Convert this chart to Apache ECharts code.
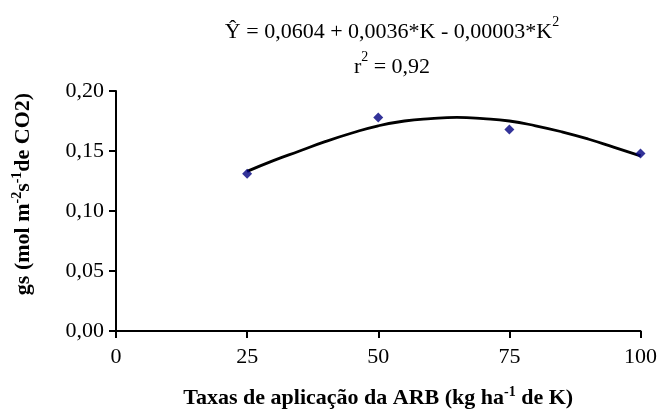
<!DOCTYPE html>
<html>
<head>
<meta charset="utf-8">
<script src="https://cdn.jsdelivr.net/npm/echarts@6/dist/echarts.min.js"></script>
<style>html,body{margin:0;padding:0;background:#fff}#c{width:660px;height:414px}</style>
</head>
<body>
<div id="c"></div>
<script>
// Observed data
const doses = [25, 50, 75, 100];
const gsObserved = [0.131, 0.178, 0.168, 0.148];
// Fitted curve
const curveK = [25, 30, 35, 40, 45, 50, 55, 60, 65, 70, 75, 80, 85, 90, 95, 100];
const curveGs = [0.133, 0.142, 0.150, 0.158, 0.165, 0.171, 0.175, 0.177, 0.178, 0.177, 0.175, 0.171, 0.166, 0.160, 0.153, 0.146];
const xTicks = [0, 25, 50, 75, 100];
const yTicks = [0, 0.05, 0.10, 0.15, 0.20];

const FONT = '"Liberation Serif", "Times New Roman", serif';
const chart = echarts.init(document.getElementById('c'), null, {renderer: 'canvas'});
const fmt = v => v.toFixed(2).replace('.', ',');

chart.setOption({
  animation: false,
  backgroundColor: '#fff',
  textStyle: {fontFamily: FONT, color: '#000'},
  title: [{
    text: '{n|Ŷ = 0,0604 + 0,0036*K - 0,00003*K}{s|2}\n{n|r}{s|2}{n| = 0,92}',
    left: 387, top: 10, textAlign: 'center',
    textStyle: {
      fontFamily: FONT, fontWeight: 'normal', color: '#000',
      rich: {
        n: {fontFamily: FONT, fontSize: 22, color: '#000', lineHeight: 35},
        s: {fontFamily: FONT, fontSize: 14, color: '#000', verticalAlign: 'top', lineHeight: 35, padding: [0, 0, 12, 0]}
      }
    }
  }],
  grid: {left: 116, right: 18, top: 91, bottom: 75},
  xAxis: {
    type: 'value', min: 0, max: 100, interval: 25,
    name: '{b|Taxas de aplicação da ARB (kg ha}{s|-1}{b| de K)}',
    nameLocation: 'middle', nameGap: 54,
    nameTextStyle: {
      rich: {
        b: {fontFamily: FONT, fontSize: 22, fontWeight: 'bold', color: '#000'},
        s: {fontFamily: FONT, fontSize: 14, fontWeight: 'bold', color: '#000', verticalAlign: 'top', padding: [0, 0, 12, 0]}
      }
    },
    axisLine: {show: true, lineStyle: {color: '#000', width: 2}},
    axisTick: {show: true, length: 7, lineStyle: {color: '#000', width: 2}},
    axisLabel: {fontFamily: FONT, fontSize: 22, color: '#000', margin: 15,
      formatter: v => xTicks.includes(v) ? String(v) : ''},
    splitLine: {show: false}
  },
  yAxis: {
    type: 'value', min: 0, max: 0.2, interval: 0.05,
    name: '{b|gs (mol m}{s|-2}{b|s}{s|-1}{b|de CO2)}',
    nameLocation: 'middle', nameGap: 80, nameRotate: 90,
    nameTextStyle: {
      padding: [0, 0, 0, 34],
      rich: {
        b: {fontFamily: FONT, fontSize: 22, fontWeight: 'bold', color: '#000'},
        s: {fontFamily: FONT, fontSize: 14, fontWeight: 'bold', color: '#000', verticalAlign: 'top', padding: [0, 0, 12, 0]}
      }
    },
    axisLine: {show: true, lineStyle: {color: '#000', width: 2}},
    axisTick: {show: true, length: 7, lineStyle: {color: '#000', width: 2}},
    axisLabel: {fontFamily: FONT, fontSize: 22, color: '#000', margin: 12,
      formatter: v => fmt(yTicks.find(t => Math.abs(t - v) < 1e-9) ?? v)},
    splitLine: {show: false}
  },
  series: [
    {
      type: 'line', smooth: true, symbol: 'none', z: 2,
      data: curveK.map((k, i) => [k, curveGs[i]]),
      lineStyle: {color: '#000', width: 2.8}
    },
    {
      type: 'scatter', symbol: 'diamond', symbolSize: 10, z: 3,
      data: doses.map((k, i) => [k, gsObserved[i]]),
      itemStyle: {color: '#000080'}
    }
  ]
});
</script>
</body>
</html>
